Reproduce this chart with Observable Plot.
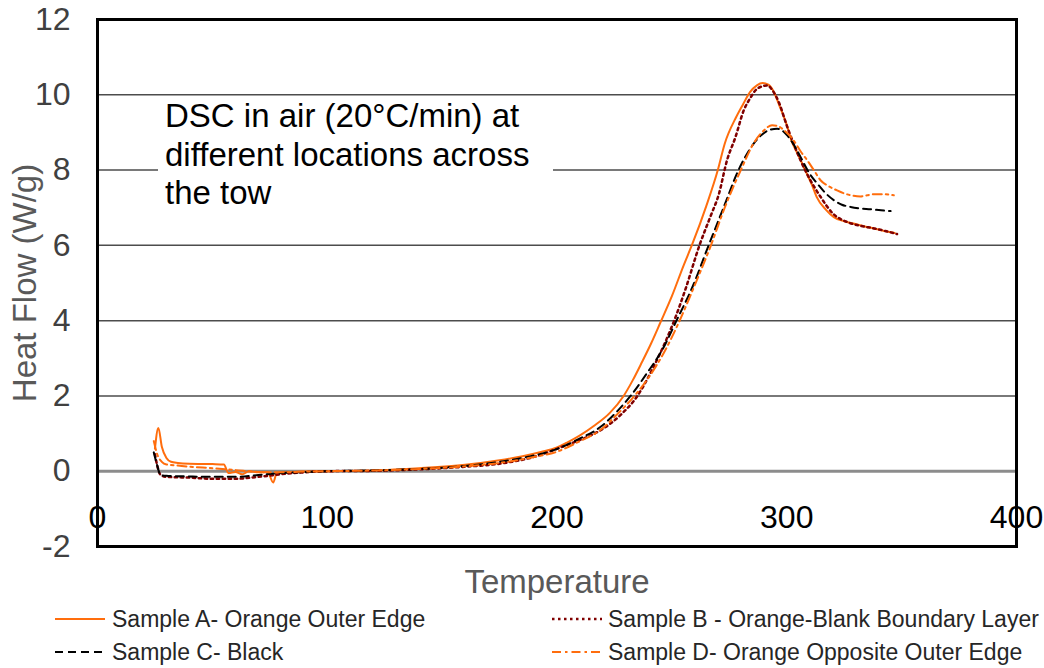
<!DOCTYPE html>
<html>
<head>
<meta charset="utf-8">
<script src="https://cdn.jsdelivr.net/npm/d3@7"></script>
<script src="https://cdn.jsdelivr.net/npm/@observablehq/plot@0.6"></script>
<style>
  body { margin: 0; background: #fff; font-family: "Liberation Sans", Arial, sans-serif; }
  #wrap { position: relative; width: 1044px; height: 668px; overflow: hidden; }
  #note { position: absolute; left: 158px; top: 97px; width: 395px; height: 124px; background: #fff;
          font-size: 33px; line-height: 38.5px; color: #000; padding-left: 7px; box-sizing: border-box; white-space: nowrap; }
  .leg { position: absolute; height: 26px; line-height: 26px; font-size: 23px; color: #262626; white-space: nowrap; }
  .sw { position: absolute; }
</style>
</head>
<body>
<div id="wrap">
  <div id="chart"></div>
  <div id="note">DSC in air (20°C/min) at<br>different locations across<br>the tow</div>
  <div id="legend"></div>
</div>
<script>
// ---- data ----
const seriesNames = [
  "Sample A- Orange Outer Edge",
  "Sample B - Orange-Blank Boundary Layer",
  "Sample C- Black",
  "Sample D- Orange Opposite Outer Edge"
];
const tempA = [25, 26.5, 28, 30, 32, 35, 40, 50, 55, 57, 60, 63, 66, 70, 74, 76.5, 78, 81, 90, 100, 120, 140, 160, 175, 185, 193, 200, 204, 210, 216, 223, 229, 233, 237, 241, 245, 250, 255, 259, 265, 270, 273, 278, 281, 284, 287, 289.5, 292, 294, 297, 300, 302, 305, 308, 311, 313, 317, 320.5, 325, 329, 334, 338, 342, 347];
const flowA = [0.6, 1.15, 0.65, 0.35, 0.25, 0.22, 0.2, 0.19, 0.18, -0.05, -0.02, -0.08, 0, -0.03, -0.02, -0.3, -0.05, -0.03, -0.01, 0.0, 0.02, 0.08, 0.17, 0.29, 0.4, 0.51, 0.63, 0.75, 0.95, 1.2, 1.55, 2.0, 2.42, 2.9, 3.4, 3.95, 4.65, 5.45, 6.05, 7.05, 8.0, 8.7, 9.41, 9.75, 10.07, 10.25, 10.31, 10.27, 10.12, 9.68, 9.2, 8.79, 8.4, 8.0, 7.6, 7.29, 6.95, 6.75, 6.64, 6.58, 6.5, 6.45, 6.39, 6.33];
const tempB = [25, 26, 27.5, 30, 40, 50, 60, 70, 80, 90, 100, 120, 140, 160, 175, 190, 204, 212, 219, 227.6, 235, 242, 251, 256, 262, 267, 270.4, 274, 277.7, 281.3, 284, 286.4, 289, 291.5, 294, 296.5, 300.2, 303, 306, 310.3, 314.7, 320, 326.3, 332, 338, 343, 348];
const flowB = [0.45, 0.15, -0.1, -0.15, -0.17, -0.2, -0.2, -0.15, -0.08, -0.03, 0, 0.01, 0.05, 0.12, 0.2, 0.38, 0.69, 0.88, 1.09, 1.49, 2.0, 2.77, 4.0, 4.85, 6.0, 6.8, 7.35, 8.26, 8.88, 9.59, 9.9, 10.12, 10.22, 10.25, 10.1, 9.81, 9.15, 8.7, 8.26, 7.73, 7.29, 6.85, 6.62, 6.52, 6.45, 6.38, 6.3];
const tempC = [24.5, 26, 27.4, 30, 40, 50, 60, 70, 80, 91, 100, 120, 140, 160, 175, 190, 198.6, 210, 219, 226, 232, 239, 246.5, 252, 259, 266, 272.6, 279, 285.6, 289, 292.2, 295.8, 298, 300.2, 303, 306, 310, 313.3, 317, 320.5, 324, 327.8, 332, 336.5, 341, 345.2];
const flowC = [0.5, 0.15, -0.1, -0.12, -0.14, -0.15, -0.15, -0.1, -0.05, -0.02, 0, 0.02, 0.06, 0.14, 0.25, 0.42, 0.56, 0.87, 1.18, 1.58, 2.0, 2.59, 3.3, 4.0, 4.9, 6.0, 7.02, 8.0, 8.7, 8.93, 9.06, 9.1, 9.05, 8.92, 8.68, 8.35, 7.9, 7.64, 7.38, 7.2, 7.08, 7.02, 6.98, 6.96, 6.93, 6.91];
const tempD = [24.5, 26, 28, 30, 35, 40, 50, 60, 70, 80, 90, 100, 120, 140, 160, 175, 190, 200, 210, 219, 226, 233, 240, 247, 253, 260, 267, 273, 280, 286, 290, 293.6, 296, 299, 303, 306, 308.9, 312, 314.7, 318, 321.9, 325, 327.8, 332.1, 335, 337.9, 342, 346.6];
const flowD = [0.8, 0.45, 0.25, 0.18, 0.15, 0.12, 0.08, 0.03, -0.02, -0.03, -0.01, 0, 0.02, 0.06, 0.13, 0.22, 0.38, 0.52, 0.8, 1.1, 1.5, 1.95, 2.5, 3.2, 3.95, 4.95, 6.0, 7.0, 8.0, 8.75, 9.05, 9.19, 9.17, 9.05, 8.79, 8.5, 8.26, 7.98, 7.73, 7.58, 7.46, 7.38, 7.33, 7.3, 7.33, 7.36, 7.36, 7.33];
const xTicks = [0, 100, 200, 300, 400];
const yTicks = [-2, 0, 2, 4, 6, 8, 10, 12];
const gridLines = [2, 4, 6, 8, 10];
const xTitle = "Temperature";
const yTitle = "Heat Flow (W/g)";

// ---- styles ----
const styles = [
  {stroke: "#ff6d0d", dash: null, width: 2},
  {stroke: "#800000", dash: "2.5,3.5", width: 2.5},
  {stroke: "#000000", dash: "8,5", width: 2},
  {stroke: "#ff6d0d", dash: "9,4,2.5,4", width: 2}
];
const zip = (t, f) => t.map((d, i) => ({t: d, f: f[i]}));
const series = [zip(tempA, flowA), zip(tempB, flowB), zip(tempC, flowC), zip(tempD, flowD)];

const lines = series.map((data, i) => Plot.line(data, {
  x: "t", y: "f", stroke: styles[i].stroke, strokeWidth: styles[i].width,
  strokeDasharray: styles[i].dash, curve: "monotone-x"
}));

const chart = Plot.plot({
  width: 1044,
  height: 600,
  marginLeft: 97,
  marginRight: 28,
  marginTop: 19,
  marginBottom: 54,
  style: {fontFamily: "'Liberation Sans', Arial, sans-serif", background: "#fff"},
  x: {domain: [0, 400]},
  y: {domain: [-2, 12]},
  marks: [
    Plot.ruleY(gridLines, {stroke: "#4d4d4d", strokeWidth: 1.5}),
    Plot.ruleY([0], {stroke: "#8c8c8c", strokeWidth: 3}),
    ...lines,
    Plot.axisY({ticks: yTicks, tickSize: 0, tickPadding: 27, label: null, fontSize: 32, fill: "#404040",
                tickFormat: d => String(d)}),
    Plot.axisX({ticks: xTicks, tickSize: 0, tickPadding: 0, dy: -41, label: null, fontSize: 32, fill: "#000",
                tickFormat: d => String(d)}),
    Plot.text([yTitle], {frameAnchor: "left", dx: -72, rotate: -90, textAnchor: "middle", lineAnchor: "middle",
                         fontSize: 33, fill: "#595959", text: d => d}),
    Plot.text([xTitle], {frameAnchor: "bottom", dy: 36, textAnchor: "middle", lineAnchor: "middle",
                         fontSize: 33, fill: "#595959", text: d => d}),
    Plot.frame({stroke: "#000", strokeWidth: 3})
  ]
});
document.getElementById("chart").appendChild(chart);

// ---- legend (HTML below the svg) ----
const legPos = [
  {sx: 55, tx: 112, y: 606},
  {sx: 552, tx: 608, y: 606},
  {sx: 55, tx: 112, y: 639},
  {sx: 552, tx: 608, y: 639}
];
const leg = document.getElementById("legend");
seriesNames.forEach((name, i) => {
  const p = legPos[i], s = styles[i];
  const sw = document.createElementNS("http://www.w3.org/2000/svg", "svg");
  sw.setAttribute("class", "sw");
  sw.setAttribute("width", 50); sw.setAttribute("height", 26);
  sw.style.left = p.sx + "px"; sw.style.top = p.y + "px";
  const ln = document.createElementNS("http://www.w3.org/2000/svg", "line");
  ln.setAttribute("x1", 0); ln.setAttribute("x2", 50);
  ln.setAttribute("y1", 13); ln.setAttribute("y2", 13);
  ln.setAttribute("stroke", s.stroke); ln.setAttribute("stroke-width", s.width);
  if (s.dash) ln.setAttribute("stroke-dasharray", s.dash);
  sw.appendChild(ln);
  leg.appendChild(sw);
  const tx = document.createElement("div");
  tx.className = "leg";
  tx.style.left = p.tx + "px"; tx.style.top = p.y + "px";
  tx.textContent = name;
  leg.appendChild(tx);
});
</script>
</body>
</html>
